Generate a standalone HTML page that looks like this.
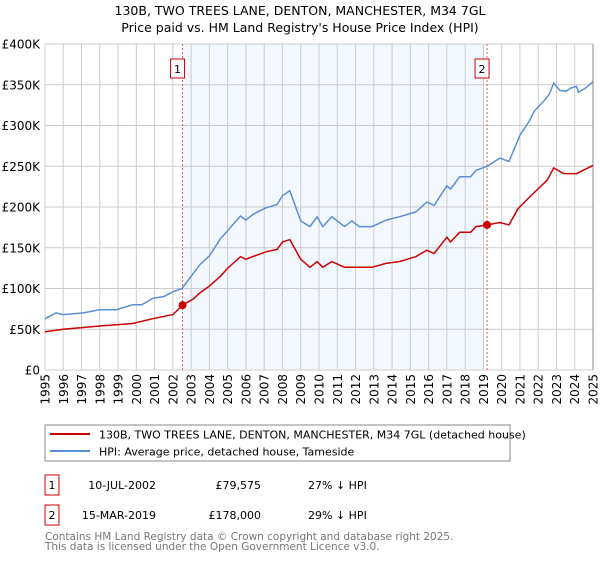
<!DOCTYPE html>
<html><head><meta charset="utf-8">
<style>
body{margin:0;background:#fff;font-family:"DejaVu Sans","Liberation Sans",sans-serif;}
svg text{font-family:"DejaVu Sans","Liberation Sans",sans-serif;}
</style></head>
<body>
<svg id="c" width="600" height="560" xmlns="http://www.w3.org/2000/svg">
<text x="300" y="15" text-anchor="middle" font-size="12.5">130B, TWO TREES LANE, DENTON, MANCHESTER, M34 7GL</text>
<text x="300" y="32" text-anchor="middle" font-size="12.5">Price paid vs. HM Land Registry's House Price Index (HPI)</text>
<g id="plot"></g>
<rect x="45" y="425" width="465" height="36" fill="#fff" stroke="#888"/>
<line x1="50" y1="434" x2="90" y2="434" stroke="#cc0000" stroke-width="2"/>
<text x="99" y="438.5" font-size="11">130B, TWO TREES LANE, DENTON, MANCHESTER, M34 7GL (detached house)</text>
<line x1="50" y1="451" x2="90" y2="451" stroke="#5b8fd4" stroke-width="2"/>
<text x="99" y="455.5" font-size="11">HPI: Average price, detached house, Tameside</text>
<g font-size="11">
<rect x="45" y="475" width="14" height="20" fill="#fff" stroke="#cc0000"/>
<text x="52" y="489" text-anchor="middle">1</text>
<text x="156" y="489" text-anchor="end">10-JUL-2002</text>
<text x="261" y="489" text-anchor="end">£79,575</text>
<text x="308" y="489">27% ↓ HPI</text>
<rect x="45" y="505" width="14" height="20" fill="#fff" stroke="#cc0000"/>
<text x="52" y="519" text-anchor="middle">2</text>
<text x="156" y="519" text-anchor="end">15-MAR-2019</text>
<text x="261" y="519" text-anchor="end">£178,000</text>
<text x="308" y="519">29% ↓ HPI</text>
</g>
<text x="45" y="540" font-size="10.5" fill="#777">Contains HM Land Registry data © Crown copyright and database right 2025.</text>
<text x="45" y="550" font-size="10.5" fill="#777">This data is licensed under the Open Government Licence v3.0.</text>
</svg>
<script>
const yTicks=[0,50,100,150,200,250,300,350,400];
const yTickLabels=["£0","£50K","£100K","£150K","£200K","£250K","£300K","£350K","£400K"];
const xYears=[1995,1996,1997,1998,1999,2000,2001,2002,2003,2004,2005,2006,2007,2008,2009,2010,2011,2012,2013,2014,2015,2016,2017,2018,2019,2020,2021,2022,2023,2024,2025];
const hpiT=[1995,1995.6,1996,1997.1,1998,1998.9,1999.8,2000.3,2000.9,2001.5,2002,2002.5,2003.1,2003.5,2004,2004.6,2005,2005.7,2006,2006.4,2007.1,2007.7,2008,2008.4,2009,2009.5,2009.9,2010.2,2010.7,2011.4,2011.8,2012.2,2012.9,2013.7,2014.4,2015.3,2015.9,2016.3,2017,2017.2,2017.7,2018.3,2018.6,2019.2,2019.9,2020.4,2021,2021.5,2021.8,2022.3,2022.6,2022.85,2023.2,2023.5,2023.8,2024.1,2024.2,2024.6,2025];
const hpiV=[63,70,68,70,74,74,80,80,88,90,96,100,118,130,140,161,171,189,184,191,199,203,214,220,183,176,188,176,188,176,183,176,176,184,188,194,206,202,226,222,237,237,245,250,260,256,288,305,318,330,338,352,343,342,346,348,341,346,354];
const ppT=[1995,1996,1998,1999.8,2000.9,2002,2002.53,2003.1,2003.5,2004,2004.6,2005,2005.7,2006,2007.1,2007.7,2008,2008.4,2009,2009.5,2009.9,2010.2,2010.7,2011.4,2012.2,2012.9,2013.7,2014.4,2015.3,2015.9,2016.3,2017,2017.2,2017.7,2018.3,2018.6,2019.2,2019.9,2020.4,2020.9,2021.7,2022.5,2022.85,2023.4,2024.1,2025];
const ppV=[47,50,54,57,63,68,79.575,87,95,103,115,125,139,136,145,148,157,160,136,126,133,126,133,126,126,126,131,133,139,147,143,163,157,169,169,176,178,181,178,198,216,233,248,241,241,251];
const saleT=[2002.53,2019.2];
const saleV=[79.575,178];
const X0=45,X1=593,Y0=370,Y1=44;
const xs=t=>X0+(t-1995)/30*(X1-X0);
const ys=v=>Y0-v/400*(Y0-Y1);
const NS="http://www.w3.org/2000/svg";
const g=document.getElementById('plot');
function mk(tag,attrs){const e=document.createElementNS(NS,tag);for(const k in attrs)e.setAttribute(k,attrs[k]);g.appendChild(e);return e;}
let e=mk('rect',{x:xs(saleT[0]),y:Y1,width:xs(2019)-xs(saleT[0]),height:Y0-Y1,fill:'#eef3fd',opacity:0.7});


yTicks.forEach((v,i)=>{
 let l=mk('line',{x1:X0,x2:X1,y1:ys(v),y2:ys(v),stroke:'#cccccc'});
 
 
 let t=mk('text',{x:40,y:ys(v)+4.5,'text-anchor':'end','font-size':'12'});
 t.textContent=yTickLabels[i];
 
 
});
xYears.forEach(y=>{
 let l=mk('line',{x1:xs(y),x2:xs(y),y1:Y1,y2:Y0,stroke:'#cccccc'});
 
 
 let t=mk('text',{x:0,y:0,'text-anchor':'end','font-size':'12',transform:`translate(${xs(y)+4.5},374) rotate(-90)`});
 t.textContent=y;
 
 
});
let ax=mk('line',{x1:X1,x2:X1,y1:Y1,y2:Y0,stroke:'#888'});


saleT.forEach((t,i)=>{
 let l=mk('line',{x1:xs(t),x2:xs(t),y1:Y1,y2:Y0,stroke:'#e06060','stroke-dasharray':'2,2'});
 
 
 let r=mk('rect',{x:xs(t)-12,y:59,width:14,height:19,fill:'#fff',stroke:'#cc0000'});
 
 
 let tx=mk('text',{x:xs(t)-5,y:73,'text-anchor':'middle','font-size':'11'});
 tx.textContent=String(i+1);
 
 
});
function pts(T,V){return T.map((t,i)=>xs(t).toFixed(1)+','+ys(V[i]).toFixed(1)).join(' ');}
let hl=mk('polyline',{points:pts(hpiT,hpiV),fill:'none',stroke:'#5b8fd4','stroke-width':1.5});


let pl=mk('polyline',{points:pts(ppT,ppV),fill:'none',stroke:'#cc0000','stroke-width':1.5});


saleT.forEach((t,i)=>{
 let c=mk('circle',{cx:xs(t),cy:ys(saleV[i]),r:4,fill:'#cc0000'});
 
 
});
</script>
</body></html>
